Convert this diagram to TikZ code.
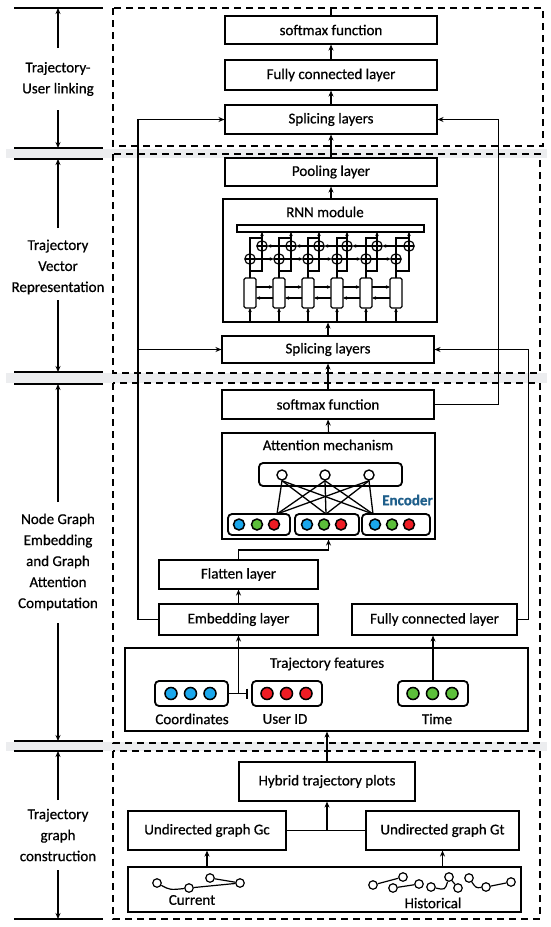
\documentclass[tikz,border=0pt]{standalone}
\usepackage{fontspec}
\setmainfont{Carlito}[FakeBold=0.6]
\usetikzlibrary{arrows.meta}
\definecolor{cblue}{HTML}{1AA7EC}
\definecolor{cgreen}{HTML}{5CBF3A}
\definecolor{cred}{HTML}{EE1C24}
\definecolor{encblue}{HTML}{1F5F8B}
\definecolor{band}{HTML}{ECEDEF}
\begin{document}
\begin{tikzpicture}[x=1pt,y=-1pt,
  txt/.style={font=\fontsize{15}{21}\selectfont, align=center, inner sep=0pt},
  box/.style={draw, line width=1.1pt, fill=white, inner sep=0pt, font=\fontsize{15}{16}\selectfont},
  ln/.style={line width=1.1pt},
  arr/.style={line width=1.1pt, -{Stealth[length=6pt,width=5pt]}},
  sarr/.style={line width=1.2pt, -{Stealth[length=4pt,width=3.5pt]}},
  rl/.style={line width=1.2pt},
  dbox/.style={line width=1.1pt, dash pattern=on 7pt off 5pt},
  pill/.style={draw, line width=1.8pt, rounded corners=4pt, inner sep=0pt},
  dot/.style={circle, draw, line width=1.5pt, minimum size=12pt, inner sep=0pt},
  adot/.style={circle, draw, line width=1.4pt, minimum size=10pt, inner sep=0pt, fill=white},
  gdot/.style={circle, draw, line width=1.2pt, minimum size=8.5pt, inner sep=0pt, fill=white},
  enc/.style={draw, line width=1.8pt, rounded corners=4pt, inner sep=0pt},
]
\useasboundingbox (0,0) rectangle (550,927);
\fill[white] (0,0) rectangle (550,927);
% gray bands
\fill[band] (6,149) rectangle (547,158);
\fill[band] (6,373) rectangle (547,383);
\fill[band] (6,742) rectangle (547,751);
% left rulers
\foreach \yy in {8,148,159,372,384,741,751,919} \draw[ln] (14,\yy) -- (103,\yy);
% dashed section boxes
\draw[dbox] (113,8) rectangle (543,146);
\draw[dbox] (113,154) rectangle (540,373);
\draw[dbox] (113,383) rectangle (540,743);
\draw[dbox] (113,751) rectangle (540,919);

% left labels
\node[txt] (lab1) at (58,79) {Trajectory-\\User linking};
\node[txt] (lab2) at (58,267) {Trajectory\\Vector\\Representation};
\node[txt] (lab3) at (58,562) {Node Graph\\Embedding\\and Graph\\Attention\\Computation};
\node[txt] (lab4) at (58,835) {Trajectory\\graph\\construction};
\coordinate (a1s) at (58,48);  \coordinate (a1e) at (58,8);
\coordinate (a2s) at (58,110); \coordinate (a2e) at (58,148);
\coordinate (a3s) at (58,228); \coordinate (a3e) at (58,159);
\coordinate (a4s) at (58,300); \coordinate (a4e) at (58,372);
\coordinate (a5s) at (58,502); \coordinate (a5e) at (58,384);
\coordinate (a6s) at (58,623); \coordinate (a6e) at (58,741);
\coordinate (a7s) at (58,800); \coordinate (a7e) at (58,751);
\coordinate (a8s) at (58,870); \coordinate (a8e) at (58,919);
\foreach \k in {1,...,8} \draw[arr] (a\k s) -- (a\k e);

% section 1
\node[box, minimum width=212, minimum height=28] (sm1) at (331,30) {softmax function};
\node[box, minimum width=212, minimum height=30] (fc1) at (331,75) {Fully connected layer};
\node[box, minimum width=212, minimum height=29] (sp1) at (331,119.5) {Splicing layers};
\coordinate (s1top) at (331,8);
\draw[ln] (sm1.north) -- (s1top);
\draw[arr] (fc1.north) -- (sm1.south);
\draw[arr] (sp1.north) -- (fc1.south);

% section 2
\node[box, minimum width=212, minimum height=28] (pool) at (331,172) {Pooling layer};
\node[box, minimum width=214, minimum height=123] (rnn) at (330,260.5) {};
\node[txt] (rnnt) at (325,212) {RNN module};
\node[box, minimum width=212, minimum height=27] (sp2) at (328,349.5) {Splicing layers};
\draw[arr] (pool.north) -- (sp1.south);
\draw[arr] (pool.south |- rnn.north) -- (pool.south);
\draw[arr] (sp2.north) -- (sp2.north |- rnn.south);

% RNN internals
\draw[rl] (237,225) rectangle (424,232);
\foreach \cx/\ux in {250/262, 279/291, 308/319, 337/347, 366/377, 396/409} {
  \draw[rl, rounded corners=1.5pt] (\cx-6,278) rectangle (\cx+6,308);
  \draw[sarr] (\cx,322) -- (\cx,308);
  \draw[rl] (\cx,259) circle[radius=5.2pt];
  \draw[rl] (\cx-5.2,259) -- (\cx+5.2,259) (\cx,253.8) -- (\cx,264.2);
  \draw[rl] (\ux,246) circle[radius=5.2pt];
  \draw[rl] (\ux-5.2,246) -- (\ux+5.2,246) (\ux,240.8) -- (\ux,251.2);
  \draw[rl] (\cx,278) -- (\cx,264.2);
  \draw[rl] (\cx,271) -- (\ux,271) -- (\ux,251.2);
  \draw[rl] (\cx,253.8) -- (\cx,238) -- (\ux,238);
  \draw[sarr] (\ux,240.8) -- (\ux,232);
}
\foreach \a/\b in {250/279, 279/308, 308/337, 337/366, 366/396} {
  \draw[sarr] (\a+5.2,259) -- (\b-5.2,259);
  \draw[sarr] (\a+6,287) -- (\b-6,287);
  \draw[sarr] (\b-6,298) -- (\a+6,298);
}
\foreach \a/\b in {262/291, 291/319, 319/347, 347/377, 377/409} {
  \draw[sarr] (\b-5.2,246) -- (\a+5.2,246);
}

% section 3
\node[box, minimum width=212, minimum height=29] (sm2) at (328,404.5) {softmax function};
\node[box, minimum width=213, minimum height=106] (att) at (328.5,486) {};
\node[txt] (attt) at (328,445) {Attention mechanism};
\node[enc, minimum width=143, minimum height=23] (encb) at (330.5,474.5) {};
\node[adot] (t1) at (282,475) {};
\node[adot] (t2) at (325,475) {};
\node[adot] (t3) at (369,475) {};
\node[enc, minimum width=62, minimum height=21] (b1) at (259,524.5) {};
\node[enc, minimum width=64, minimum height=21] (b2) at (327,524.5) {};
\node[enc, minimum width=68, minimum height=21] (b3) at (396,524.5) {};
\coordinate (p1) at (277,514);
\coordinate (p2) at (326,514);
\coordinate (p3) at (373,514);
\foreach \t in {t1,t2,t3} \foreach \p in {p1,p2,p3} \draw[line width=1.3pt] (\t.south) -- (\p);
\foreach \xx/\cc in {239/cblue, 257/cgreen, 274/cred, 307/cblue, 324/cgreen, 341/cred, 375/cblue, 392/cgreen, 409/cred}
  \node[dot, minimum size=11pt, fill=\cc] at (\xx,524.5) {};
\node[font=\fontsize{15}{16}\selectfont\bfseries, text=encblue, anchor=east, inner sep=0pt] (enct) at (433,500) {Encoder};

\node[box, minimum width=159, minimum height=29] (flat) at (238.5,574.5) {Flatten layer};
\node[box, minimum width=159, minimum height=31] (emb) at (238.5,619.5) {Embedding layer};
\node[box, minimum width=165, minimum height=31] (fc3) at (434.5,619.5) {Fully connected layer};
\draw[arr] (sm2.north) -- (sp2.south);
\draw[arr] (att.north) -- (sm2.south);
\coordinate (fj) at (238.5,550);
\draw[arr] (flat.north) -- (fj) -| (att.south);
\draw[arr] (emb.north) -- (flat.south);
\coordinate (lx) at (138,349.5);
\draw[arr] (emb.west) -| (lx) |- (sp1.west);
\draw[arr] (lx) -- (sp2.west);
\draw[arr] (fc3.east) -- ++(11,0) |- (sp2.east);
\draw[arr] (sm2.east) -- ++(64,0) |- (sp1.east);

% trajectory features
\node[box, minimum width=403, minimum height=83] (tf) at (326.5,689.5) {};
\node[txt] (tft) at (327,664) {Trajectory features};
\node[pill, minimum width=73, minimum height=25] (coord) at (191.5,693.5) {};
\node[pill, minimum width=70, minimum height=25] (uid) at (287,693.5) {};
\node[pill, minimum width=70, minimum height=25] (time) at (433,693.5) {};
\foreach \xx in {171,190.5,210} \node[dot, fill=cblue] at (\xx,693.5) {};
\foreach \xx in {267,286.5,306} \node[dot, fill=cred] at (\xx,693.5) {};
\foreach \xx in {413,432.5,452} \node[dot, fill=cgreen] at (\xx,693.5) {};
\node[txt] (coordt) at (192,719) {Coordinates};
\node[txt] (uidt) at (285,719) {User ID};
\node[txt] (timet) at (437,719) {Time};
\coordinate (cj) at (238.5,693.5);
\coordinate (ck) at (247,693.5);
\draw[ln] (coord.east) -- (ck);
\draw[ln] (247,688.5) -- (247,698.5);
\draw[arr] (cj) -- (emb.south);
\draw[arr] (time.north) -- (time.north |- fc3.south);

% section 4
\node[box, minimum width=176, minimum height=39] (hyb) at (327,781.5) {Hybrid trajectory plots};
\node[box, minimum width=158, minimum height=39] (gc) at (207,830.5) {Undirected graph Gc};
\node[box, minimum width=153, minimum height=39] (gt) at (442.5,830.5) {Undirected graph Gt};
\node[box, minimum width=393, minimum height=45] (bot) at (324.5,889.5) {};
\draw[arr] (hyb.north) -- (hyb.north |- tf.south);
\draw[ln] (gc.east) -- (gt.west);
\draw[arr] (hyb.south |- gc.east) -- (hyb.south);
\draw[arr] (bot.north -| gc.south) -- (gc.south);
\draw[arr] (bot.north -| gt.south) -- (gt.south);

% current graph
\node[gdot] (c1) at (157,883) {};
\node[gdot] (c2) at (189,888) {};
\node[gdot] (c3) at (210,878) {};
\node[gdot] (c4) at (240,883) {};
\draw[line width=1.2pt] (c1) .. controls (170,890) .. (c2);
\draw[line width=1.2pt] (c2) -- (c4);
\draw[line width=1.2pt] (c3) -- (c4);
\node[txt] (curt) at (192,900) {Current};
% historical graph
\node[gdot] (h1) at (373,885) {};
\node[gdot] (h2) at (393,888) {};
\node[gdot] (h3) at (403,877) {};
\node[gdot] (h4) at (419,884) {};
\node[gdot] (h5) at (431,887) {};
\node[gdot] (h6) at (449,877) {};
\node[gdot] (h7) at (458,888) {};
\node[gdot] (h8) at (469,878) {};
\node[gdot] (h9) at (486,887) {};
\node[gdot] (h10) at (511,882) {};
\draw[line width=1.2pt] (h1) -- (h3);
\draw[line width=1.2pt] (h2) -- (h4);
\draw[line width=1.2pt] (h5) .. controls (445,890) .. (h6);
\draw[line width=1.2pt] (h6) -- (h7);
\draw[line width=1.2pt] (h8) .. controls (476,888) .. (h9);
\draw[line width=1.2pt] (h9) -- (h10);
\node[txt] (hist) at (433,903) {Historical};
\end{tikzpicture}
\end{document}
